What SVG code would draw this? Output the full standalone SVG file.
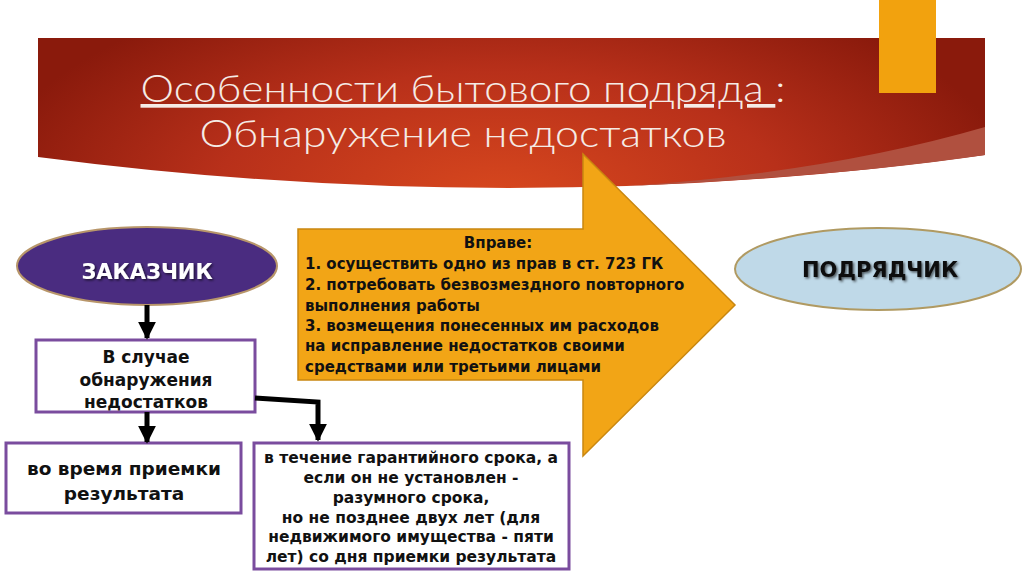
<svg xmlns="http://www.w3.org/2000/svg" width="1024" height="574" viewBox="0 0 1024 574">
<defs>
<radialGradient id="bannerGrad" cx="500" cy="200" r="520" gradientUnits="userSpaceOnUse" gradientTransform="translate(500 200) scale(1 0.45) translate(-500 -200)">
<stop offset="0" stop-color="#D8481E"/>
<stop offset="0.55" stop-color="#B8301A"/>
<stop offset="1" stop-color="#8A1A0C"/>
</radialGradient>
<filter id="shadow" x="-20%" y="-40%" width="140%" height="180%">
<feDropShadow dx="1.5" dy="1.5" stdDeviation="1.2" flood-color="#000" flood-opacity="0.6"/>
</filter>
<marker id="arr" viewBox="0 0 10 10" refX="9" refY="5" markerWidth="3.6" markerHeight="3.6" orient="auto" markerUnits="strokeWidth">
<path d="M0,0 L10,5 L0,10 Z" fill="#000"/>
</marker>
<style>
.title{font-family:Lato,"Open Sans","Liberation Sans",sans-serif;font-weight:300;font-size:37px;fill:#F5EBE6;}
.b{font-family:"DejaVu Sans","Liberation Sans",sans-serif;font-weight:bold;fill:#111;}
.box{fill:#fff;stroke:#7A4C9E;stroke-width:3;}
.conn{fill:none;stroke:#000;stroke-width:5;stroke-linejoin:miter;}
</style>
</defs>

<g id="banner">
<path d="M38,38 L985,38 L985,155 Q520,220 38,157 Z" fill="url(#bannerGrad)"/>
<path d="M985,127 Q830,172 629,186 Q845,176 985,155 Z" fill="#B0503F"/>
<text class="title" x="463" y="102" text-anchor="middle" textLength="645" lengthAdjust="spacingAndGlyphs"><tspan text-decoration="underline">Особенности бытового подряда </tspan>:</text>
<text class="title" x="463" y="147" text-anchor="middle" textLength="527" lengthAdjust="spacingAndGlyphs">Обнаружение недостатков</text>
</g>

<g id="corner-bar">
<rect x="879" y="0" width="57" height="93" fill="#F2A20E"/>
</g>

<g id="rights-arrow">
<path d="M298,229 L583,229 L583,154 L735,305 L583,456 L583,380 L298,380 Z" fill="#F2A516" stroke="#C98710" stroke-width="1.5"/>
<text class="b" font-size="15" x="498" y="248" text-anchor="middle">Вправе:</text>
<text class="b" font-size="15" x="305" y="269">1. осуществить одно из прав в ст. 723 ГК</text>
<text class="b" font-size="15" x="305" y="290">2. потребовать безвозмездного повторного</text>
<text class="b" font-size="15" x="305" y="311">выполнения работы</text>
<text class="b" font-size="15" x="305" y="331">3. возмещения понесенных им расходов</text>
<text class="b" font-size="15" x="305" y="351">на исправление недостатков своими</text>
<text class="b" font-size="15" x="305" y="372">средствами или третьими лицами</text>
</g>

<g id="zakazchik">
<ellipse cx="147" cy="266" rx="130" ry="39" fill="#4A2C80" stroke="#B8966A" stroke-width="2"/>
<text x="147" y="279" text-anchor="middle" font-family="'DejaVu Sans','Liberation Sans',sans-serif" font-weight="bold" font-size="21" fill="#fff" filter="url(#shadow)">ЗАКАЗЧИК</text>
</g>

<g id="podryadchik">
<ellipse cx="878" cy="269" rx="143" ry="41" fill="#BFD9E8" stroke="#B09A62" stroke-width="2"/>
<text x="880" y="277" text-anchor="middle" font-family="'DejaVu Sans','Liberation Sans',sans-serif" font-weight="bold" font-size="21" fill="#111" filter="url(#shadow)">ПОДРЯДЧИК</text>
</g>

<g id="case-box">
<rect class="box" x="36" y="340" width="219" height="72"/>
<text class="b" font-size="17" x="146" y="363" text-anchor="middle">В случае</text>
<text class="b" font-size="17" x="146" y="386" text-anchor="middle">обнаружения</text>
<text class="b" font-size="17" x="146" y="408" text-anchor="middle">недостатков</text>
</g>

<g id="acceptance-box">
<rect class="box" x="6" y="443" width="235" height="70"/>
<text class="b" font-size="18.5" x="124" y="475" text-anchor="middle">во время приемки</text>
<text class="b" font-size="18.5" x="124" y="500" text-anchor="middle">результата</text>
</g>

<g id="warranty-box">
<rect class="box" x="254" y="443" width="315" height="126"/>
<text class="b" font-size="15.5" x="411" y="463" text-anchor="middle">в течение гарантийного срока, а</text>
<text class="b" font-size="15.5" x="411" y="483" text-anchor="middle">если он не установлен -</text>
<text class="b" font-size="15.5" x="411" y="503" text-anchor="middle">разумного срока,</text>
<text class="b" font-size="15.5" x="411" y="523" text-anchor="middle">но не позднее двух лет (для</text>
<text class="b" font-size="15.5" x="411" y="542" text-anchor="middle">недвижимого имущества - пяти</text>
<text class="b" font-size="15.5" x="411" y="562" text-anchor="middle">лет) со дня приемки результата</text>
</g>

<g id="connectors">
<line class="conn" x1="147" y1="305" x2="147" y2="338" marker-end="url(#arr)"/>
<line class="conn" x1="147" y1="412" x2="147" y2="442" marker-end="url(#arr)"/>
<polyline class="conn" points="255,398 318,402 318,440" marker-end="url(#arr)"/>
</g>
</svg>
